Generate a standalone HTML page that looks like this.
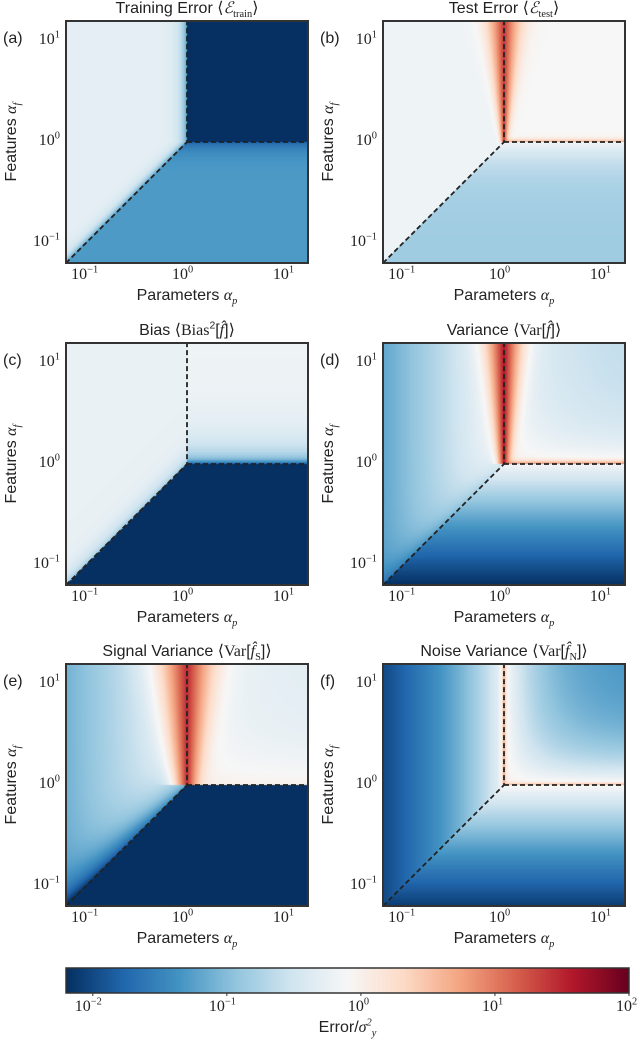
<!DOCTYPE html>
<html><head><meta charset="utf-8">
<style>
body{margin:0;background:#fff;}
#root{position:relative;width:640px;height:1040px;overflow:hidden;background:#fff;font-family:"Liberation Sans","DejaVu Sans",sans-serif;color:#222;}
.t{position:absolute;white-space:nowrap;line-height:1;}
.ttl{font-size:16px;transform:translateX(-50%);}
.tick{font-family:"Liberation Serif","DejaVu Serif",serif;font-size:16px;}
.m{font-family:"Liberation Serif","DejaVu Serif",serif;font-style:italic;}
.r{font-family:"Liberation Serif","DejaVu Serif",serif;}
sub,sup{font-size:65%;line-height:0;}
canvas{position:absolute;}
</style></head>
<body><div id="root"></div>
<script>
// ---- data (log10 error levels per region: [upper-left, upper-right, lower]) ----
const panelIds = ["a","b","c","d","e","f"];
const trainLevels = [-0.3, -2.2, -1.3];
const testLevels = [-0.2, -0.1, -0.85];
const biasLevels = [-0.25, -0.2, -2.2];
const varLevels = [-1.2, -0.65, -2.2];
const sigLevels = [-1.1, -0.35, -2.2];
const noiseLevels = [-2.0, -1.4, -2.1];
const axisTicks = [-1, 0, 1];
const cbarTicks = [-2, -1, 0, 1, 2];
const cbarRange = [-2.2, 2];
const axisRange = [-1.2, 1.2];
const titles = [
 'Training Error ⟨<span class="m">ℰ</span><sub class="r">train</sub>⟩',
 'Test Error ⟨<span class="m">ℰ</span><sub class="r">test</sub>⟩',
 'Bias ⟨<span class="r">Bias</span><sup>2</sup>[<span class="m">f̂</span>]⟩',
 'Variance ⟨<span class="r">Var</span>[<span class="m">f̂</span>]⟩',
 'Signal Variance ⟨<span class="r">Var</span>[<span class="m">f̂</span><sub class="r">S</sub>]⟩',
 'Noise Variance ⟨<span class="r">Var</span>[<span class="m">f̂</span><sub class="r">N</sub>]⟩'
];

const cmap = ["#053061","#2166ac","#4393c3","#92c5de","#d1e5f0","#f7f7f7","#fddbc7","#f4a582","#d6604d","#b2182b","#67001f"].map(h=>[parseInt(h.slice(1,3),16),parseInt(h.slice(3,5),16),parseInt(h.slice(5,7),16)]);
function color(L){
  let t=(L-cbarRange[0])/(cbarRange[1]-cbarRange[0]); t=Math.max(0,Math.min(1,t));
  const s=t*10, i=Math.min(9,Math.floor(s)), f=s-i;
  return cmap[i].map((c,k)=>c+(cmap[i+1][k]-c)*f);
}
const lg=x=>Math.log10(Math.max(x,1e-6));
function plume(u,v,amp,w0,w1){ if(v<=0) return 0; return amp*Math.exp(-Math.abs(u)/(w0+w1*v)); }
function field(k,u,v){
  const A = u<0 && v>u, B = u>=0 && v>=0;
  const dA = Math.min(-u, v-u);
  if(k===0){const l=trainLevels;
    if(A) return l[0]-1.0*Math.exp(-dA/0.06);
    if(B) return l[1];
    return l[2]-0.5*Math.exp(v/0.08);}
  if(k===1){const l=testLevels;
    if(A) return lg(Math.pow(10,l[0])+plume(u,v,25,0.012,0.04));
    if(B) return lg(Math.pow(10,l[1])+plume(u,v,25,0.012,0.04)+5*Math.exp(-v/0.015));
    return l[2]+0.7*Math.exp(v/0.2);}
  if(k===2){const l=biasLevels;
    if(A) return l[0]-0.6*Math.exp(-(v-u)/0.1);
    if(B) return l[1]-0.9*Math.exp(-v/0.2)-0.8*Math.exp(-v/0.03);
    return l[2];}
  if(k===3){const l=varLevels;
    if(A) return lg(Math.pow(10,l[0]*Math.pow(-u/1.2,0.9)-0.5*Math.exp(-(v-u)/0.15))+plume(u,v,40,0.02,0.03));
    if(B) return lg(Math.pow(10,l[1]*(1-Math.exp(-u/0.4))*(1-Math.exp(-v/0.3)))+plume(u,v,40,0.02,0.03)+8*Math.exp(-v/0.015));
    return -0.1+(l[2]+0.1)*Math.pow(-v/1.2,0.8);}
  if(k===4){const l=sigLevels;
    if(A) return lg(Math.pow(10,l[0]*Math.pow(-u/1.2,0.8)-1.2*Math.exp(-(v-u)/0.2))+plume(u,v,30,0.04,0.04));
    if(B) return lg(Math.pow(10,l[1]*(1-Math.exp(-u/0.4))*(1-Math.exp(-v/0.3)))+plume(u,v,30,0.04,0.04));
    return l[2];}
  const l=noiseLevels;
  if(A) return lg(Math.pow(10,l[0]*Math.pow(-u/1.2,0.6))+(v>0?5*Math.exp(-Math.abs(u)/0.01):0));
  if(B) return lg(Math.pow(10,l[1]*(1-Math.exp(-u/0.35))*(1-Math.exp(-v/0.35)))+5*Math.exp(-u/0.01)+5*Math.exp(-v/0.01));
  return -0.05+(l[2]+0.05)*Math.pow(-v/1.2,0.8);
}

const root=document.getElementById('root');
const W=242, lefts=[66,383], tops=[21,343,664];
const sx=u=>(u-axisRange[0])/(axisRange[1]-axisRange[0])*W;
const sy=v=>(axisRange[1]-v)/(axisRange[1]-axisRange[0])*W;
function addText(html,x,y,cls){
  const d=document.createElement('div'); d.className='t '+cls; d.innerHTML=html;
  d.style.left=x+'px'; d.style.top=y+'px'; root.appendChild(d); return d;
}
const NS='http://www.w3.org/2000/svg';
const svg=document.createElementNS(NS,'svg');
svg.setAttribute('width',640);svg.setAttribute('height',1040);
svg.style.position='absolute';svg.style.left='0';svg.style.top='0';



panelIds.forEach((id,k)=>{
  const x0=lefts[k%2], y0=tops[Math.floor(k/2)];
  const c=document.createElement('canvas'); c.width=W;c.height=W;
  c.style.left=x0+'px';c.style.top=y0+'px';
  
  
  const ctx=c.getContext('2d'); const img=ctx.createImageData(W,W);
  for(let py=0;py<W;py++)for(let px=0;px<W;px++){
    const u=axisRange[0]+(px+0.5)/W*(axisRange[1]-axisRange[0]);
    const v=axisRange[1]-(py+0.5)/W*(axisRange[1]-axisRange[0]);
    const col=color(field(k,u,v)); const o=(py*W+px)*4;
    img.data[o]=col[0];img.data[o+1]=col[1];img.data[o+2]=col[2];img.data[o+3]=255;
  }
  ctx.putImageData(img,0,0); root.appendChild(c);
  const p=document.createElementNS(NS,'path');
  p.setAttribute('d',`M${x0+sx(axisRange[0])} ${y0+sy(axisRange[0])} L${x0+sx(0)} ${y0+sy(0)} L${x0+sx(0)} ${y0} M${x0+sx(0)} ${y0+sy(0)} L${x0+W} ${y0+sy(0)}`);
  p.setAttribute('fill','none');p.setAttribute('stroke','#222');p.setAttribute('stroke-width','1.8');p.setAttribute('stroke-dasharray','5,3');
  
  
  svg.appendChild(p);
  const fr=document.createElementNS(NS,'rect');
  fr.setAttribute('x',x0);fr.setAttribute('y',y0);fr.setAttribute('width',W);fr.setAttribute('height',W);
  fr.setAttribute('fill','none');fr.setAttribute('stroke','#333');fr.setAttribute('stroke-width','2');
  
  
  svg.appendChild(fr);
  axisTicks.forEach(t=>{
    const xl=addText('10<sup>'+(t<0?'−1':t)+'</sup>',x0+sx(t)-15,y0+W+4,'tick');
    
    
    const yl=addText('10<sup>'+(t<0?'−1':t)+'</sup>',x0-6,y0+sy(t)-9,'tick');
    yl.style.transform='translateX(-100%)';
    
    
  });
  const tt=addText(titles[k],x0+W/2,y0-20,'ttl');
  
  
  const lt=addText('('+id+')',x0-63,y0+10,'');
  lt.style.fontSize='16px';
  
  
  const xt=addText('Parameters <span class="m">α<sub>p</sub></span>',x0+W/2,y0+W+25,'ttl');
  
  
  const yt=addText('Features <span class="m">α<sub>f</sub></span>',x0-54,y0+W/2,'');
  yt.style.fontSize='16px';yt.style.transform='translate(-50%,-50%) rotate(-90deg)';
  
  
});

// colorbar
const cbX=66, cbW=563, cbY=968, cbH=25;
const cb=document.createElement('canvas'); cb.width=cbW; cb.height=cbH;
cb.style.left=cbX+'px'; cb.style.top=cbY+'px';


const cctx=cb.getContext('2d');
for(let i=0;i<cbW;i++){const L=cbarRange[0]+(i+0.5)/cbW*(cbarRange[1]-cbarRange[0]);const col=color(L);
  cctx.fillStyle=`rgb(${col[0]|0},${col[1]|0},${col[2]|0})`;cctx.fillRect(i,0,1,cbH);}
root.appendChild(cb);
const cfr=document.createElementNS(NS,'rect');
cfr.setAttribute('x',cbX);cfr.setAttribute('y',cbY);cfr.setAttribute('width',cbW);cfr.setAttribute('height',cbH);
cfr.setAttribute('fill','none');cfr.setAttribute('stroke','#333');cfr.setAttribute('stroke-width','1.5');


svg.appendChild(cfr);
cbarTicks.forEach(t=>{
  const x=cbX+(t-cbarRange[0])/(cbarRange[1]-cbarRange[0])*cbW;
  const ln=document.createElementNS(NS,'line');
  ln.setAttribute('x1',x);ln.setAttribute('x2',x);ln.setAttribute('y1',cbY+cbH);ln.setAttribute('y2',cbY+cbH+3);ln.setAttribute('stroke','#333');
  
  
  svg.appendChild(ln);
  const lb=addText('10<sup>'+(t<0?'−'+(-t):t)+'</sup>',x-(t<0?18:13),cbY+cbH+6,'tick');
  
  
});
const cl=addText('Error/<span class="m">σ<sup class="r">2</sup><sub>y</sub></span>',cbX+cbW/2,1020,'ttl');


root.appendChild(svg);
</script>
</body></html>
